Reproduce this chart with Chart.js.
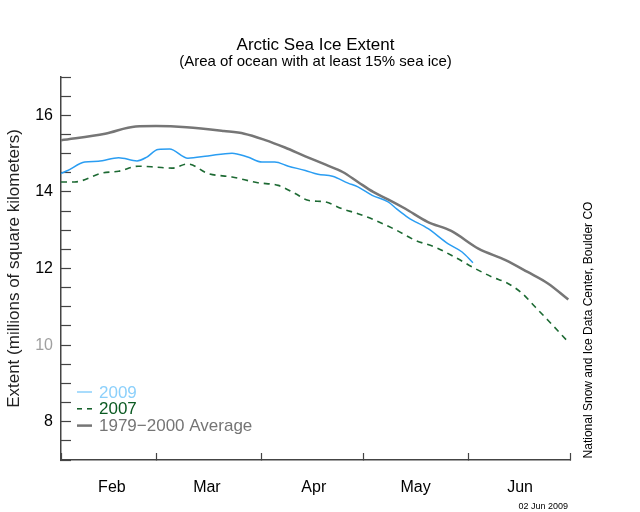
<!DOCTYPE html>
<html>
<head>
<meta charset="utf-8">
<script src="https://cdn.jsdelivr.net/npm/chart.js@4.4.1/dist/chart.umd.min.js"></script>
<style>
  html, body { margin: 0; padding: 0; background: #fff; }
</style>
</head>
<body>
<canvas id="chart" width="640" height="512"></canvas>
<script>
// x values are days counted from Feb 1
const monthStarts = [0, 28, 59, 89, 120, 150];
const monthMids = [15, 43, 74.5, 104.5, 135.3];
const monthNames = ['Feb', 'Mar', 'Apr', 'May', 'Jun'];

// 1979-2000 average
const avgDays = [0, 13, 22, 28, 37, 48, 54, 60, 66, 72, 78, 83, 87.5, 92, 96.5, 101.5, 108, 115, 123, 131, 137.5, 143.5, 149.5];
const avgExtent = [15.35, 15.52, 15.71, 15.72, 15.69, 15.59, 15.52, 15.36, 15.16, 14.93, 14.71, 14.52, 14.26, 14.0, 13.8, 13.56, 13.22, 12.98, 12.52, 12.22, 11.91, 11.61, 11.19];

// 2009
const days2009 = [0, 2, 7, 11, 17, 22.4, 25.3, 28.6, 32, 37.4, 43.3, 50.4, 55, 59.2, 63, 67, 72, 75.7, 80, 84.6, 87.5, 91.7, 96.4, 99, 102.3, 108.2, 114, 118.2, 121.4];
const extent2009 = [14.48, 14.56, 14.78, 14.8, 14.89, 14.81, 14.91, 15.11, 15.12, 14.88, 14.94, 15.01, 14.91, 14.78, 14.78, 14.67, 14.56, 14.46, 14.41, 14.23, 14.13, 13.91, 13.74, 13.55, 13.33, 13.04, 12.65, 12.43, 12.15];

// 2007
const days2007 = [0, 4, 12, 17, 22.7, 27.7, 32.7, 37.4, 43.3, 50.4, 58, 64, 69, 72.8, 77.8, 82.8, 87.5, 92.5, 98.4, 104.3, 110.2, 116, 122, 127, 131.7, 135.9, 139.7, 143.5, 149.4];
const extent2007 = [14.26, 14.26, 14.49, 14.54, 14.67, 14.65, 14.62, 14.73, 14.48, 14.39, 14.24, 14.17, 13.96, 13.78, 13.74, 13.56, 13.43, 13.26, 13.02, 12.74, 12.56, 12.3, 12.0, 11.78, 11.61, 11.35, 11.0, 10.65, 10.09];

const toPoints = (xs, ys) => xs.map((x, i) => ({ x, y: ys[i] }));

Chart.defaults.font.family = "'Liberation Sans', Arial, Helvetica, sans-serif";
Chart.defaults.color = '#000';

const AXIS_COLOR = '#444';

// legend, credit line and date are drawn by hand like the original plot
const extras = {
  id: 'extras',
  afterDraw(chart) {
    const c = chart.ctx;
    c.save();
    const items = [
      { label: '2009', color: '#8cd0fb', dash: [], width: 1.5 },
      { label: '2007', color: '#0b5a22', dash: [5, 5], width: 1.5 },
      { label: '1979\u22122000 Average', color: '#757575', dash: [], width: 2.5 },
    ];
    items.forEach((it, i) => {
      const y = 392 + i * 16.8;
      c.strokeStyle = it.color;
      c.lineWidth = it.width;
      c.setLineDash(it.dash);
      c.beginPath();
      c.moveTo(77, y);
      c.lineTo(92, y);
      c.stroke();
      c.setLineDash([]);
      c.fillStyle = it.color;
      c.font = "17px 'Liberation Sans', Arial, sans-serif";
      c.textBaseline = 'middle';
      c.textAlign = 'left';
      c.fillText(it.label, 99, y + 1);
    });

    c.fillStyle = '#000';
    c.font = "9px 'Liberation Sans', Arial, sans-serif";
    c.textAlign = 'right';
    c.fillText('02 Jun 2009', 568, 507);

    c.translate(589, 330);
    c.rotate(-Math.PI / 2);
    c.font = "12px 'Liberation Sans', Arial, sans-serif";
    c.textAlign = 'center';
    c.fillText('National Snow and Ice Data Center, Boulder CO', 0, 0);
    c.restore();
  }
};

const chart = new Chart(document.getElementById('chart'), {
  type: 'line',
  data: {
    datasets: [
      {
        label: '1979-2000 Average',
        data: toPoints(avgDays, avgExtent),
        borderColor: '#767676',
        borderWidth: 2.5,
        pointRadius: 0,
        cubicInterpolationMode: 'monotone',
      },
      {
        label: '2007',
        data: toPoints(days2007, extent2007),
        borderColor: '#1d6a33',
        borderWidth: 1.6,
        borderDash: [6, 5],
        pointRadius: 0,
        cubicInterpolationMode: 'monotone',
      },
      {
        label: '2009',
        data: toPoints(days2009, extent2009),
        borderColor: '#2a9df2',
        borderWidth: 1.5,
        pointRadius: 0,
        cubicInterpolationMode: 'monotone',
      },
    ]
  },
  options: {
    responsive: false,
    animation: false,
    devicePixelRatio: 1,
    layout: { padding: { left: 0, right: 70, top: 0, bottom: 0 } },
    plugins: {
      legend: { display: false },
      tooltip: { enabled: false },
      title: {
        display: true,
        text: 'Arctic Sea Ice Extent',
        fullSize: false,
        color: '#000',
        font: { size: 17, weight: 'normal', lineHeight: 1.0 },
        padding: { top: 37, bottom: 0 },
      },
      subtitle: {
        display: true,
        text: '(Area of ocean with at least 15% sea ice)',
        fullSize: false,
        color: '#000',
        font: { size: 15, lineHeight: 1.0 },
        padding: { top: 0, bottom: 8 },
      },
    },
    scales: {
      x: {
        type: 'linear',
        min: 0,
        max: 150,
        position: 'bottom',
        weight: 0,
        afterBuildTicks: s => { s.ticks = monthStarts.map(v => ({ value: v })); },
        ticks: { callback: () => '', font: { size: 1 } },
        grid: { drawOnChartArea: false, tickLength: -7, tickColor: AXIS_COLOR, tickWidth: 1.2 },
        border: { color: AXIS_COLOR, width: 1.5 },
        afterFit: s => { s.height = 0; },
      },
      x2: {
        type: 'linear',
        min: 0,
        max: 150,
        position: 'bottom',
        weight: 1,
        afterBuildTicks: s => { s.ticks = monthMids.map(v => ({ value: v })); },
        ticks: {
          autoSkip: false,
          maxRotation: 0,
          padding: 18,
          color: '#000',
          font: { size: 16 },
          callback: (v, i) => monthNames[i],
        },
        grid: { display: false, drawTicks: false },
        border: { display: false },
        afterFit: s => { s.height = 52; },
      },
      y: {
        min: 7,
        max: 17,
        ticks: {
          stepSize: 0.5,
          autoSkip: false,
          padding: 18,
          font: { size: 16 },
          color: ctx => (ctx.tick && ctx.tick.value === 10 ? '#a0a0a0' : '#000'),
          callback: v => (v % 2 === 0 ? String(v) : ''),
        },
        grid: { drawOnChartArea: false, tickLength: -10, tickColor: AXIS_COLOR, tickWidth: 1.2 },
        border: { color: AXIS_COLOR, width: 1.5 },
        title: {
          display: true,
          text: 'Extent (millions of square kilometers)',
          color: '#222',
          font: { size: 17 },
          padding: { top: 4, bottom: 0 },
        },
        afterFit: s => { s.width = 61; },
      },
    }
  },
  plugins: [extras]
});
</script>
</body>
</html>
